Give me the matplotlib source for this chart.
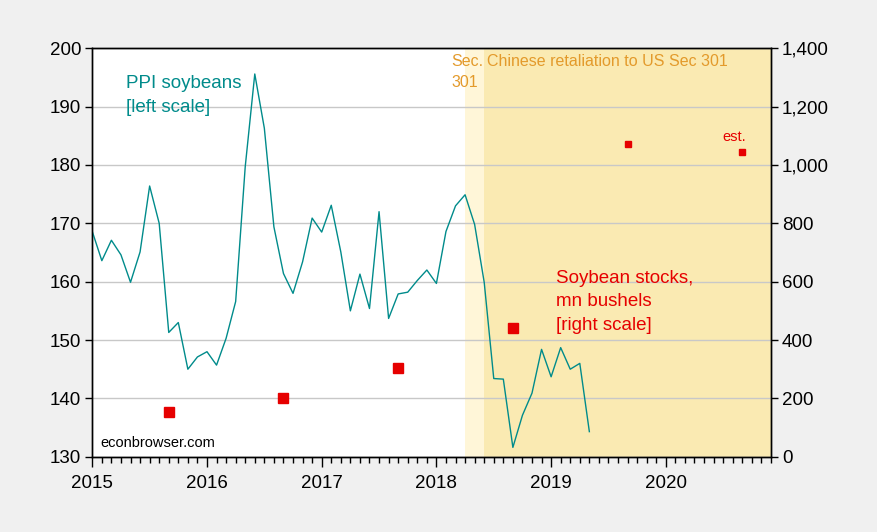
import numpy as np
import matplotlib
matplotlib.use("Agg")
import matplotlib.pyplot as plt
from matplotlib.ticker import FuncFormatter, MultipleLocator

plt.rcParams['font.family'] = ['Liberation Sans', 'DejaVu Sans']

# monthly PPI soybeans, 2015M01 .. 2019M05
ppi = [168.6, 163.6, 167.1, 164.6, 159.9, 165.1, 176.4, 170.0, 151.3, 153.0, 145.0, 147.1,
       148.0, 145.7, 150.3, 156.6, 179.7, 195.6, 186.3, 169.4, 161.4, 158.0, 163.4, 170.9,
       168.5, 173.1, 165.1, 155.0, 161.3, 155.4, 172.0, 153.7, 157.9, 158.2, 160.2, 162.0,
       159.7, 168.6, 173.0, 174.9, 169.8, 159.9, 143.4, 143.3, 131.6, 137.1, 140.9, 148.4,
       143.7, 148.7, 145.0, 146.0, 134.3]
ppi_start = (2015, 1)

# Sept 1 soybean stocks, mn bushels
stock_months = ["2015-09", "2016-09", "2017-09", "2018-09"]
stocks = [152, 200, 303, 440]
est_months = ["2019-09", "2020-09"]
est_stocks = [1072, 1044]

# shaded periods
sec301_start = "2018-04"
retaliation_start = "2018-06"
sample_end = "2020-12"


def to_x(ym):
    y, m = ym.split("-")
    return int(y) + (int(m) - 1) / 12.0


ppi_x = ppi_start[0] + (ppi_start[1] - 1) / 12.0 + np.arange(len(ppi)) / 12.0

fig = plt.figure(figsize=(8.78, 5.32), dpi=100, facecolor="#f0f0f0")
ax = fig.add_axes([0.1051, 0.1415, 0.7730, 0.7677])
ax.set_facecolor("white")
ax2 = ax.twinx()

x0, x1 = 2015, to_x(sample_end)
ax.axvspan(to_x(sec301_start), to_x(retaliation_start), color="#fff6d8", lw=0, zorder=0)
ax.axvspan(to_x(retaliation_start), x1, color="#faeab2", lw=0, zorder=0)

ax.plot(ppi_x, ppi, color="#008b8b", lw=1.0, zorder=3)
ax.set_ylim(130, 200)
ax.set_yticks(np.arange(130, 201, 10))
ax.grid(axis="y", color="#c8c8c8", lw=1.0)
ax.set_axisbelow(True)

ax2.plot([to_x(m) for m in stock_months], stocks, ls="none", marker="s", ms=6.5,
         color="#e60000", mec="#e60000")
ax2.plot([to_x(m) for m in est_months], est_stocks, ls="none", marker="s", ms=4.3,
         color="#e60000", mec="#e60000")
ax2.set_ylim(0, 1400)
ax2.set_yticks(np.arange(0, 1401, 200))
ax2.yaxis.set_major_formatter(FuncFormatter(lambda v, p: f"{int(v):,}"))

ax.set_xlim(x0, x1)
ax.set_xticks(np.arange(2015, 2021))
ax.set_xticklabels([str(y) for y in range(2015, 2021)])
ax.xaxis.set_minor_locator(MultipleLocator(1 / 12.0))

for a in (ax, ax2):
    for s in a.spines.values():
        s.set_color("black")
        s.set_linewidth(1.0)
ax.tick_params(axis="x", which="major", length=7, width=1, labelsize=13.5, pad=6, top=False)
ax.tick_params(axis="x", which="minor", length=4, width=1, top=False)
ax.tick_params(axis="y", length=5, width=1, labelsize=13.5, pad=3)
ax2.tick_params(axis="y", length=5, width=1, labelsize=13.5, pad=3)

ax.text(0.049, 0.885, "PPI soybeans\n[left scale]", transform=ax.transAxes, color="#008b8b",
        fontsize=13.5, va="center", ha="left", linespacing=1.5)
ax2.text(0.683, 0.379, "Soybean stocks,\nmn bushels\n[right scale]", transform=ax.transAxes,
         color="#e60000", fontsize=13.5, va="center", ha="left", linespacing=1.5)
ax2.text(0.928, 0.782, "est.", transform=ax.transAxes, color="#e60000", fontsize=10.5,
         va="center", ha="left")
ax.text(0.0125, 0.034, "econbrowser.com", transform=ax.transAxes, color="black",
        fontsize=10.5, va="center", ha="left")
ax.text(0.529, 0.985, "Sec.\n301", transform=ax.transAxes, color="#e39a2b", fontsize=11.5,
        va="top", ha="left", linespacing=1.47, zorder=4)
ax.text(0.582, 0.985, "Chinese retaliation to US Sec 301", transform=ax.transAxes,
        color="#e39a2b", fontsize=11.5, va="top", ha="left", zorder=4)

fig.savefig("out.png", dpi=100, facecolor=fig.get_facecolor())
